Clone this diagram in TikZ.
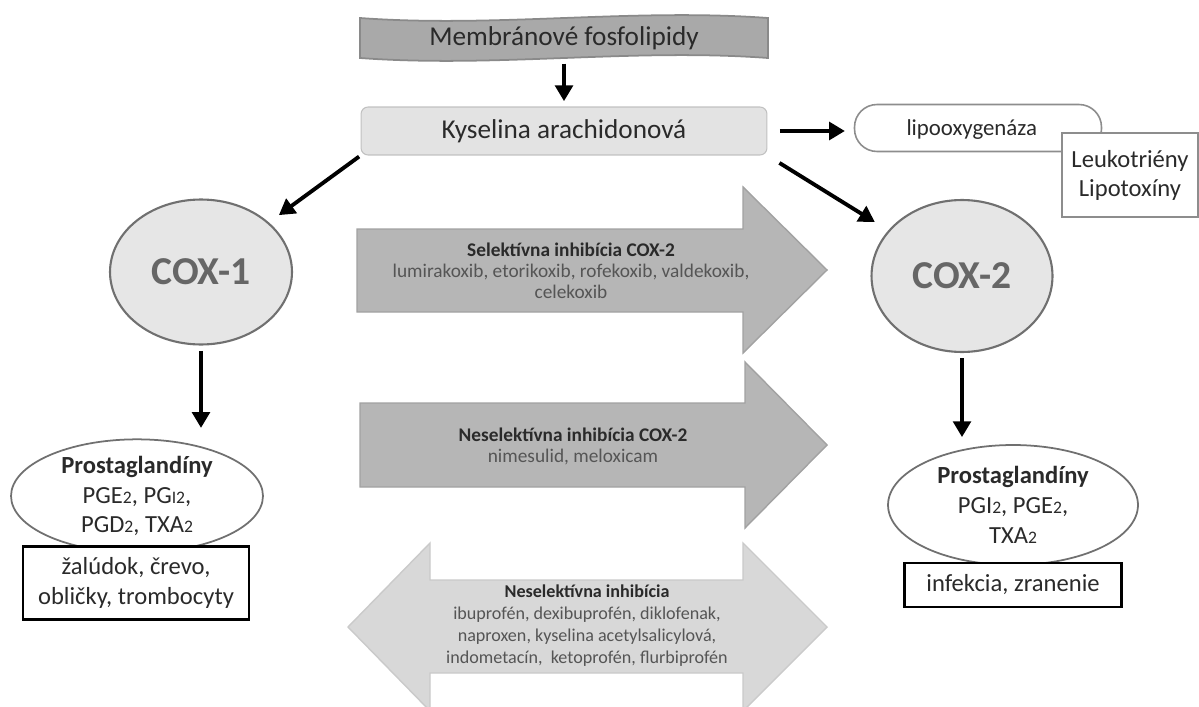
\documentclass[tikz,border=0pt]{standalone}
\usepackage{fontspec}
\setmainfont{Carlito}
\usetikzlibrary{arrows.meta,shapes.geometric}
\definecolor{bandfill}{HTML}{A9A9A9}
\definecolor{bandline}{HTML}{8A8A8A}
\definecolor{acidfill}{HTML}{E3E3E3}
\definecolor{coxfill}{HTML}{E6E6E6}
\definecolor{coxline}{HTML}{707070}
\definecolor{arrfill}{HTML}{B6B6B6}
\definecolor{arrline}{HTML}{A2A2A2}
\definecolor{dblfill}{HTML}{D8D8D8}
\definecolor{dblline}{HTML}{CACACA}
\definecolor{txtdark}{HTML}{2A2A2A}
\definecolor{txtgray}{HTML}{555555}
\newcommand{\lo}[1]{{\fontsize{10}{10}\selectfont #1}}

\begin{document}
\begin{tikzpicture}[x=0.02cm, y=-0.02cm,
    blk/.style={line width=2.2pt, draw=black, -{Triangle[length=9pt,width=10pt]}},
    bigtxt/.style={text=txtdark, font=\fontsize{15.5}{18}\selectfont},
    midtxt/.style={text=txtdark, font=\fontsize{13.5}{16}\selectfont, align=center},
    druglist/.style={text=txtgray, font=\fontsize{11}{12}\selectfont, align=center},
    cox/.style={ellipse, fill=coxfill, draw=coxline, line width=1.2pt, text=txtgray!90,
        font=\fontsize{22.5}{22.5}\selectfont\bfseries, inner sep=0pt},
    prost/.style={ellipse, fill=white, draw=coxline, line width=1pt, inner sep=0pt,
        text=txtdark, font=\fontsize{14}{17}\selectfont, align=center},
    organ/.style={rectangle, fill=white, draw=black, line width=1.3pt, inner sep=0pt,
        text=txtdark, font=\fontsize{14}{17}\selectfont, align=center},
    blockarrow/.style={fill=arrfill, draw=arrline, line width=0.8pt},
    dblarrow/.style={fill=dblfill, draw=dblline, line width=0.8pt}]
\useasboundingbox (0,0) rectangle (1199,706);

% membrane band
\draw[fill=bandfill, draw=bandline, line width=1pt]
    (360,18) .. controls (496,28) and (632,8) .. (768,18) -- (768,58)
    .. controls (632,48) and (496,68) .. (360,58) -- cycle;
\node[bigtxt, minimum width=8.16cm, minimum height=0.8cm, inner sep=0pt] (memb) at (564,38) {Membránové fosfolipidy};

\node[bigtxt, rectangle, rounded corners=4pt, fill=acidfill, draw=acidfill!85!black, line width=0.6pt,
    minimum width=8.12cm, minimum height=0.96cm, inner sep=0pt] (acid) at (564,131) {Kyselina arachidonová};

% lipoxygenase branch
\node[midtxt, font=\fontsize{13}{16}\selectfont, rectangle, rounded corners=0.45cm, draw=coxline!80, line width=0.9pt, fill=white,
    minimum width=4.94cm, minimum height=0.94cm, inner sep=0pt, text depth=0pt] (lipo) at (978,128) {lipooxygenáza\hspace{0.25cm}};
\node[midtxt, font=\fontsize{14}{16.5}\selectfont, rectangle, draw=coxline!80, line width=0.9pt, fill=white,
    minimum width=2.72cm, minimum height=1.68cm, inner sep=0pt] (leuko) at (1130,175) {Leukotriény\\Lipotoxíny};

% enzymes
\node[cox, minimum width=3.64cm, minimum height=2.9cm] (cox1) at (201,272) {COX-1};
\node[cox, minimum width=3.62cm, minimum height=3.04cm] (cox2) at (962,276) {COX-2};

% prostaglandins and targets
\node[prost, minimum width=5.04cm, minimum height=2.24cm] (pg1) at (137,496)
    {\textbf{Prostaglandíny}\\PGE\lo{2}, PG\lo{I2},\\PGD\lo{2}, TXA\lo{2}};
\node[organ, minimum width=4.52cm, minimum height=1.46cm] (org1) at (136,583) {žalúdok, črevo,\\obličky, trombocyty};
\node[prost, minimum width=5cm, minimum height=2.4cm] (pg2) at (1013,505)
    {\textbf{Prostaglandíny}\\PGI\lo{2}, PGE\lo{2},\\TXA\lo{2}};
\node[organ, minimum width=4.34cm, minimum height=0.88cm] (org2) at (1013,585) {infekcia, zranenie};

% inhibition arrows
\draw[blockarrow] (357,229) -- (743,229) -- (743,187) -- (827,270) -- (743,353) -- (743,312) -- (357,312) -- cycle;
\draw[blockarrow] (360,403) -- (745,403) -- (745,362) -- (827,445) -- (745,528) -- (745,487) -- (360,487) -- cycle;
\draw[dblarrow] (348,627) -- (430,543) -- (430,580) -- (743,580) -- (743,543) -- (827,627)
    -- (743,711) -- (743,673) -- (430,673) -- (430,711) -- cycle;

\node[druglist] (sel) at (571,271) {{\color{txtdark}\bfseries Selektívna inhibícia COX-2}\\
    lumirakoxib, etorikoxib, rofekoxib, valdekoxib,\\celekoxib};
\node[druglist] (nesel) at (573,446) {{\color{txtdark}\bfseries Neselektívna inhibícia COX-2}\\nimesulid, meloxicam};
\node[druglist, font=\fontsize{10.3}{12.5}\selectfont] (neall) at (587,626) {{\color{txtdark}\bfseries Neselektívna inhibícia}\\
    ibuprofén, dexibuprofén, diklofenak,\\naproxen, kyselina acetylsalicylová,\\indometacín,~ ketoprofén, flurbiprofén};

% connectors
\draw[blk, shorten <=3pt, shorten >=3pt] (memb.south) -- (acid.north);
\draw[blk, shorten <=7pt, shorten >=5pt] (acid.east) -- (acid.east -| lipo.west);
\draw[blk, shorten <=1pt, shorten >=7pt] (acid.south west) -- (cox1);
\draw[blk, shorten <=8pt, shorten >=9pt] (acid.south east) -- (cox2);
\draw[blk, shorten <=3pt, shorten >=6pt] (cox1.south) -- (cox1.south |- pg1.north);
\draw[blk, shorten <=3pt, shorten >=4pt] (cox2.south) -- (cox2.south |- pg2.north);
\end{tikzpicture}
\end{document}
